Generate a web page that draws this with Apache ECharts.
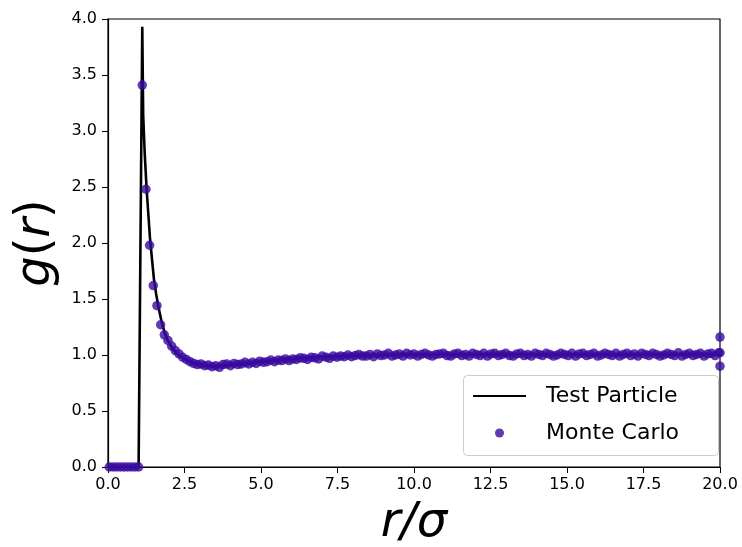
<!DOCTYPE html>
<html>
<head>
<meta charset="utf-8">
<script src="https://cdn.jsdelivr.net/npm/echarts@6/dist/echarts.min.js"></script>
<style>
html,body{margin:0;padding:0;background:#fff;}
#chart{width:742px;height:547px;}
</style>
</head>
<body>
<div id="chart"></div>
<script>
// Axis ticks
var xTicks = [0, 2.5, 5, 7.5, 10, 12.5, 15, 17.5, 20];
var yTicks = [0, 0.5, 1, 1.5, 2, 2.5, 3, 3.5, 4];

// Test Particle curve
var lineR = [0, 1.0, 1.12, 1.15, 1.2, 1.26, 1.32, 1.37, 1.44, 1.5, 1.57, 1.64, 1.75, 1.85, 1.95, 2.1, 2.3, 2.5, 2.7, 2.9, 3.2, 3.5, 3.8, 4.2, 4.6, 5.0, 5.5, 6.0, 6.5, 7.0, 8.0, 9.0, 10, 11, 12, 13, 14, 15, 16, 17, 18, 19, 20];
var lineG = [0, 0, 3.93, 3.14, 2.8, 2.49, 2.25, 2.05, 1.85, 1.68, 1.55, 1.44, 1.3, 1.2, 1.13, 1.06, 1.0, 0.965, 0.94, 0.92, 0.905, 0.9, 0.905, 0.915, 0.925, 0.94, 0.955, 0.965, 0.975, 0.985, 0.995, 1.0, 1.003, 1.005, 1.005, 1.005, 1.005, 1.005, 1.005, 1.005, 1.005, 1.005, 1.005];

// Monte Carlo points
var mcR = [
  0.04,0.16,0.28,0.40,0.52,0.64,0.76,0.88,1.00,1.12,
  1.24,1.36,1.48,1.60,1.72,1.84,1.96,2.08,2.20,2.32,
  2.44,2.56,2.68,2.80,2.92,3.04,3.16,3.28,3.40,3.52,
  3.64,3.76,3.88,4.00,4.12,4.24,4.36,4.48,4.60,4.72,
  4.84,4.96,5.08,5.20,5.32,5.44,5.56,5.68,5.80,5.92,
  6.04,6.16,6.28,6.40,6.52,6.64,6.76,6.88,7.00,7.12,
  7.24,7.36,7.48,7.60,7.72,7.84,7.96,8.08,8.20,8.32,
  8.44,8.56,8.68,8.80,8.92,9.04,9.16,9.28,9.40,9.52,
  9.64,9.76,9.88,10.00,10.12,10.24,10.36,10.48,10.60,10.72,
  10.84,10.96,11.08,11.20,11.32,11.44,11.56,11.68,11.80,11.92,
  12.04,12.16,12.28,12.40,12.52,12.64,12.76,12.88,13.00,13.12,
  13.24,13.36,13.48,13.60,13.72,13.84,13.96,14.08,14.20,14.32,
  14.44,14.56,14.68,14.80,14.92,15.04,15.16,15.28,15.40,15.52,
  15.64,15.76,15.88,16.00,16.12,16.24,16.36,16.48,16.60,16.72,
  16.84,16.96,17.08,17.20,17.32,17.44,17.56,17.68,17.80,17.92,
  18.04,18.16,18.28,18.40,18.52,18.64,18.76,18.88,19.00,19.12,
  19.24,19.36,19.48,19.60,19.72,19.84,19.96,20.00,20.00,20.00
];
var mcG = [
  0,0,0,0,0,0,0,0,0,3.41,
  2.48,1.98,1.62,1.44,1.27,1.18,1.13,1.08,1.04,1.01,
  0.98,0.96,0.94,0.925,0.915,0.92,0.905,0.91,0.895,0.905,
  0.89,0.915,0.92,0.905,0.925,0.915,0.92,0.935,0.92,0.935,
  0.925,0.945,0.935,0.94,0.955,0.94,0.955,0.95,0.965,0.95,
  0.965,0.96,0.975,0.97,0.96,0.98,0.975,0.965,0.99,0.98,
  0.97,0.99,0.98,0.99,0.985,1.0,0.985,0.995,1.005,0.99,
  0.99,1.005,0.985,1.01,0.995,1.0,1.015,0.99,1.0,1.01,
  0.99,1.015,1.0,1.01,0.99,1.005,1.015,1.0,0.99,1.005,
  1.01,1.015,0.995,0.99,1.01,1.015,0.995,1.005,0.99,1.015,
  1.005,0.995,1.015,0.99,1.01,1.015,0.995,1.005,1.015,0.995,
  0.99,1.01,1.015,0.995,1.005,0.99,1.015,1.005,0.995,1.015,
  1.005,0.99,1.0,1.015,1.005,0.995,1.015,0.99,1.01,1.015,
  0.995,1.005,1.015,0.99,1.0,1.015,1.005,0.995,1.015,0.99,
  1.005,1.015,0.995,1.01,0.99,1.015,1.005,0.995,1.015,1.005,
  0.99,1.0,1.015,1.005,0.995,1.02,0.99,1.005,1.015,0.995,
  1.005,1.015,0.99,1.01,1.015,0.995,1.02,1.16,0.90,1.02
];

var lineData = lineR.map(function (r, i) { return [r, lineG[i]]; });
var mcData = mcR.map(function (r, i) { return [r, mcG[i]]; });

var FONT = 'DejaVu Sans';
var chart = echarts.init(document.getElementById('chart'), null, {renderer: 'canvas'});
chart.setOption({
  animation: false,
  backgroundColor: '#ffffff',
  grid: {left: 108, right: 22, top: 19, bottom: 80, show: true, borderColor: '#000', borderWidth: 1.2, backgroundColor: 'transparent', containLabel: false, outerBoundsMode: 'none'},
  xAxis: {
    type: 'value', min: xTicks[0], max: xTicks[xTicks.length - 1], interval: 2.5,
    name: 'r/σ', nameLocation: 'middle', nameGap: 33,
    nameTextStyle: {fontFamily: FONT, fontStyle: 'italic', fontSize: 48, color: '#000'},
    axisLine: {show: true, lineStyle: {color: '#000', width: 1.2}},
    axisTick: {show: true, length: 6, lineStyle: {color: '#000'}},
    axisLabel: {fontFamily: FONT, fontSize: 16, color: '#000', margin: 10, formatter: function (v) { return v.toFixed(1); }},
    splitLine: {show: false}
  },
  yAxis: {
    type: 'value', min: yTicks[0], max: yTicks[yTicks.length - 1], interval: 0.5,
    name: '{i|g}{n|(}{i|r}{n|)}', nameLocation: 'middle', nameGap: 47, nameRotate: 90,
    nameTextStyle: {
      fontFamily: FONT, fontSize: 48, color: '#000',
      rich: {
        i: {fontFamily: FONT, fontSize: 48, fontStyle: 'italic', color: '#000'},
        n: {fontFamily: FONT, fontSize: 48, color: '#000'}
      }
    },
    axisLine: {show: true, lineStyle: {color: '#000', width: 1.2}},
    axisTick: {show: true, length: 6, lineStyle: {color: '#000'}},
    axisLabel: {fontFamily: FONT, fontSize: 16, color: '#000', margin: 11, formatter: function (v) { return v.toFixed(1); }},
    splitLine: {show: false}
  },
  legend: {
    orient: 'vertical', left: 472, top: 385, itemWidth: 53, itemHeight: 9, itemGap: 15,
    padding: 0, z: 10,
    textStyle: {fontFamily: FONT, fontSize: 22, color: '#000', padding: [0, 0, 0, 15]},
    data: [
      {name: 'Test Particle', itemStyle: {color: 'rgba(0,0,0,0)', borderWidth: 0}},
      {name: 'Monte Carlo'}
    ]
  },
  graphic: [{
    type: 'rect', left: 463, top: 375, z: 9,
    shape: {width: 255, height: 80, r: 4},
    style: {fill: 'rgba(255,255,255,0.8)', stroke: '#cccccc', lineWidth: 1}
  }],
  series: [
    {
      name: 'Test Particle', type: 'line', data: lineData, symbol: 'none', showSymbol: false,
      lineStyle: {color: '#000', width: 2.6}, itemStyle: {color: '#000'}, z: 2, clip: true
    },
    {
      name: 'Monte Carlo', type: 'scatter', data: mcData, symbol: 'circle', symbolSize: 9.5,
      itemStyle: {color: '#3a0aa0', opacity: 0.8}, z: 3, clip: true
    }
  ]
});
</script>
</body>
</html>
